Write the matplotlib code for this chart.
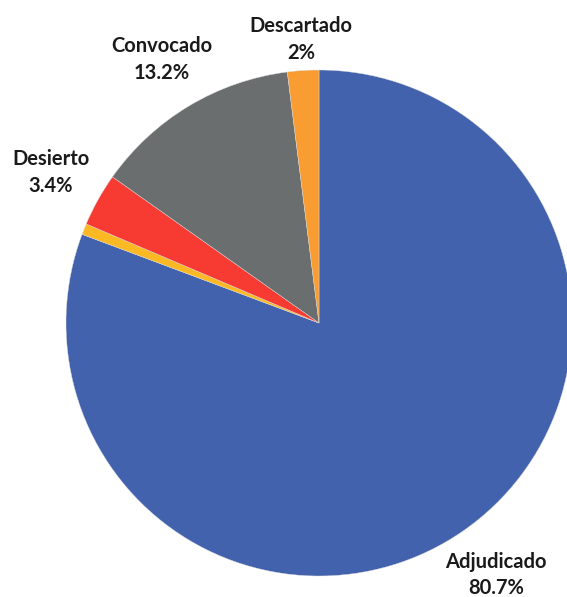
import matplotlib
matplotlib.use("Agg")
import matplotlib.pyplot as plt

# datos del gráfico (porcentajes)
estados = ["Adjudicado", "Otro", "Desierto", "Convocado", "Descartado"]
valores = [80.7, 0.7, 3.4, 13.2, 2.0]
mostrar = [True, False, True, True, True]
colores = ["#4262AD", "#FDB924", "#F73A32", "#6B6E6E", "#F99D33"]

# posición de las etiquetas (unidades del radio)
pos_etiquetas = {
    "Adjudicado": (0.70, -0.996),
    "Desierto": (-1.059, 0.595),
    "Convocado": (-0.621, 1.041),
    "Descartado": (-0.071, 1.121),
}

W, H = 567, 597
cx, cy, R = 319, 323, 253

fig = plt.figure(figsize=(W / 100, H / 100), dpi=100)
ax = fig.add_axes([0, 0, 1, 1])

ax.pie(valores, colors=colores, startangle=90, counterclock=False,
       wedgeprops={"linewidth": 0.3, "edgecolor": "#dddddd"})

ax.set_xlim(-cx / R, (W - cx) / R)
ax.set_ylim(-(H - cy) / R, cy / R)
ax.set_aspect("auto")
ax.axis("off")

for nombre, v, m in zip(estados, valores, mostrar):
    if not m:
        continue
    x, y = pos_etiquetas[nombre]
    ax.text(x, y, f"{nombre}\n{v:g}%", ha="center", va="center",
            fontsize=14.5, fontweight="bold", color="#1a1a1a",
            family=["Lato", "DejaVu Sans"], linespacing=1.42)

fig.savefig("out.png", dpi=100)
